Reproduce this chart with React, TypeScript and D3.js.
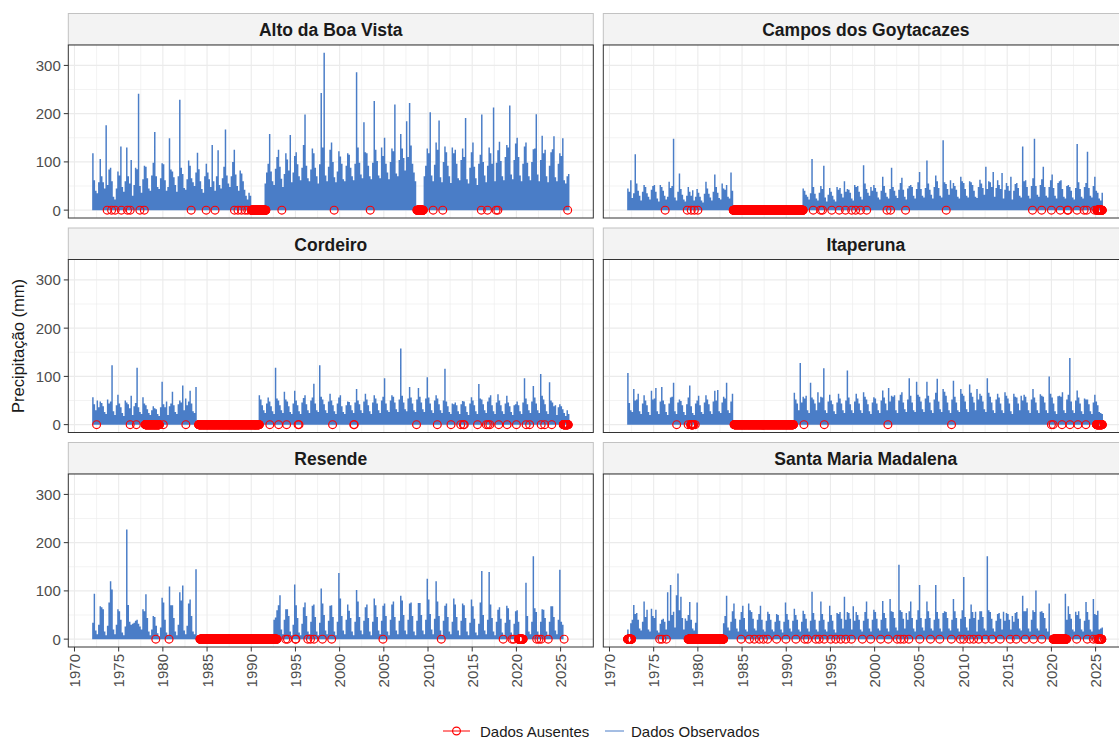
import React from "react";
import * as d3 from "d3";

// Bi-monthly maximum of daily precipitation (mm), starting Jan 1972.
// Each row is one year: Jan–Feb, Mar–Apr, May–Jun, Jul–Aug, Sep–Oct, Nov–Dec. N = no observation.
const N = null;
const FIRST_YEAR = 1972;
const PERIODS_PER_YEAR = 6;

const altoDaBoaVista: (number | null)[] = [
  118, 62, 40, 35, 58, 106, // 1972
  70, 58, 45, 176, 52, 84, // 1973
  88, 60, 28, 22, 45, 80, // 1974
  72, 132, 48, 38, 60, 130, // 1975
  70, 55, 104, 30, 52, 88, // 1976
  85, 241, 50, 36, 64, 92, // 1977
  90, 66, 45, 40, 72, 98, // 1978
  162, 70, 48, 44, 66, 97, // 1979
  95, 62, 40, 48, 149, 84, // 1980
  80, 68, 52, 38, 70, 229, // 1981
  88, 75, 46, 42, 64, 103, // 1982
  92, 66, 58, 50, 78, 119, // 1983
  85, 60, 44, 36, 70, 96, // 1984
  78, 64, 48, 135, 60, 40, // 1985
  70, 124, 52, 45, 66, 90, // 1986
  167, 72, 55, 48, 70, 100, // 1987
  125, 74, 50, 40, 82, 76, // 1988
  60, 42, 30, 22, 36, 30, // 1989
  N, N, N, N, N, N, // 1990
  N, N, N, 55, 78, 96, // 1991
  158, 80, 60, 52, 86, 110, // 1992
  125, 90, 65, 48, 75, 118, // 1993
  105, 82, 156, 58, 78, 112, // 1994
  120, 95, 70, 62, 88, 135, // 1995
  198, 92, 66, 60, 84, 128, // 1996
  118, 88, 70, 55, 95, 243, // 1997
  130, 326, 72, 60, 90, 125, // 1998
  140, 100, 68, 58, 80, 122, // 1999
  111, 96, 64, 60, 92, 118, // 2000
  115, 88, 70, 62, 96, 286, // 2001
  130, 98, 74, 66, 182, 120, // 2002
  118, 92, 70, 64, 98, 226, // 2003
  125, 102, 72, 66, 130, 112, // 2004
  150, 96, 78, 64, 100, 128, // 2005
  122, 219, 76, 70, 104, 158, // 2006
  128, 108, 82, 184, 110, 222, // 2007
  134, 96, 78, 60, N, N, // 2008
  N, N, N, 70, 92, 128, // 2009
  118, 203, 72, 60, 94, 140, // 2010
  125, 186, 68, 58, 100, 132, // 2011
  120, 92, 70, 56, 130, 118, // 2012
  125, 96, 66, 62, 104, 128, // 2013
  110, 191, 64, 55, 88, 120, // 2014
  140, 90, 66, 52, 96, 115, // 2015
  198, 100, 72, 58, 92, 130, // 2016
  118, 96, 213, 60, 98, 124, // 2017
  142, 102, 70, 62, 110, 135, // 2018
  130, 217, 74, 64, 104, 138, // 2019
  150, 110, 72, 60, 96, 132, // 2020
  140, 98, 70, 62, 100, 126, // 2021
  128, 199, 74, 60, 104, 154, // 2022
  118, 125, 70, 58, 92, 120, // 2023
  126, 153, 68, 60, 96, 118, // 2024
  112, 149, 62, 55, 70, 75, // 2025
];

const camposDosGoytacazes: (number | null)[] = [
  45, 38, 62, 25, 35, 116, // 1972
  55, 40, 30, 20, 38, 52, // 1973
  48, 35, 28, 22, 42, 50, // 1974
  52, 38, 24, 18, 52, 48, // 1975
  40, 30, 22, 28, 59, 46, // 1976
  50, 148, 26, 20, 38, 76, // 1977
  44, 32, 22, 18, 30, 48, // 1978
  38, 30, 41, 20, 28, 44, // 1979
  36, 28, 20, 16, 34, 59, // 1980
  45, 34, 26, 20, 38, 74, // 1981
  48, 36, 25, 22, 55, 45, // 1982
  42, 52, 28, 24, 78, 40, // 1983
  N, N, N, N, N, N, // 1984
  N, N, N, N, N, N, // 1985
  N, N, N, N, N, N, // 1986
  N, N, N, N, N, N, // 1987
  N, N, N, N, N, N, // 1988
  N, N, N, N, N, N, // 1989
  N, N, N, N, N, N, // 1990
  N, N, N, N, N, 45, // 1991
  40, 32, 28, 22, 35, 106, // 1992
  48, 34, 24, 20, 36, 50, // 1993
  44, 92, 26, 18, 32, 46, // 1994
  38, 30, 22, 18, 48, 42, // 1995
  46, 34, 26, 60, 38, 44, // 1996
  42, 36, 24, 20, 52, 48, // 1997
  50, 38, 28, 22, 93, 55, // 1998
  44, 36, 30, 48, 40, 52, // 1999
  46, 38, 26, 22, 40, 69, // 2000
  50, 36, 28, 24, 44, 88, // 2001
  48, 40, 30, 25, 42, 56, // 2002
  67, 42, 28, 22, 45, 50, // 2003
  52, 48, 30, 24, 44, 58, // 2004
  79, 44, 30, 26, 46, 103, // 2005
  55, 42, 32, 24, 48, 72, // 2006
  60, 46, 30, 26, 145, 58, // 2007
  54, 44, 32, 62, 45, 56, // 2008
  50, 42, 28, 24, 69, 60, // 2009
  56, 44, 30, 26, 60, 58, // 2010
  52, 40, 28, 25, 48, 63, // 2011
  55, 46, 32, 90, 44, 60, // 2012
  58, 48, 79, 28, 46, 62, // 2013
  52, 44, 77, 24, 42, 56, // 2014
  50, 40, 69, 22, 40, 54, // 2015
  56, 46, 30, 26, 132, 60, // 2016
  62, 48, 30, 24, 50, 66, // 2017
  148, 50, 32, 28, 52, 64, // 2018
  90, 48, 30, 26, 48, 62, // 2019
  74, 46, 30, 24, 56, 60, // 2020
  62, 44, 28, 24, 50, 52, // 2021
  48, 40, 26, 22, 46, 137, // 2022
  58, 44, 28, 24, 48, 56, // 2023
  121, 46, 30, 26, 50, 69, // 2024
  40, 36, 24, 20, 36, N, // 2025
];

const cordeiro: (number | null)[] = [
  57, 42, 30, 50, 36, 48, // 1972
  45, 38, 26, 22, 52, 44, // 1973
  48, 123, 28, 20, 40, 62, // 1974
  44, 36, 24, 18, 50, 46, // 1975
  42, 34, 60, 20, 38, 45, // 1976
  118, 36, 26, 22, 57, 44, // 1977
  40, 32, 24, 20, 30, 38, // 1978
  34, 32, 22, 18, 36, 89, // 1979
  42, 36, 48, 20, 38, 44, // 1980
  68, 40, 26, 22, 42, 50, // 1981
  46, 81, 30, 54, 40, 48, // 1982
  70, 44, 28, 24, 78, N, // 1983
  N, N, N, N, N, N, // 1984
  N, N, N, N, N, N, // 1985
  N, N, N, N, N, N, // 1986
  N, N, N, N, N, N, // 1987
  N, N, N, N, N, N, // 1988
  N, N, N, N, N, N, // 1989
  N, N, N, N, N, 61, // 1990
  52, 40, 30, 24, 44, 56, // 1991
  48, 38, 28, 22, 118, 54, // 1992
  50, 40, 30, 24, 68, 52, // 1993
  48, 38, 26, 22, 44, 70, // 1994
  50, 40, 28, 22, 46, 55, // 1995
  61, 42, 30, 24, 50, 56, // 1996
  85, 44, 30, 26, 123, 58, // 1997
  52, 42, 30, 24, 48, 64, // 1998
  50, 40, 28, 22, 44, 56, // 1999
  61, 38, 26, 22, 40, 48, // 2000
  47, 40, 30, 24, 46, 74, // 2001
  50, 42, 30, 24, 48, 64, // 2002
  52, 40, 28, 22, 46, 61, // 2003
  54, 44, 30, 24, 50, 58, // 2004
  96, 44, 30, 26, 50, 61, // 2005
  58, 46, 32, 26, 52, 158, // 2006
  60, 46, 32, 28, 54, 78, // 2007
  56, 44, 30, 26, 52, 76, // 2008
  58, 46, 32, 26, 54, 98, // 2009
  56, 44, 30, 24, 50, 61, // 2010
  54, 42, 30, 24, 50, 116, // 2011
  48, 38, 26, 22, 44, 42, // 2012
  46, 40, 28, 22, 42, 49, // 2013
  48, 38, 26, 20, 44, 57, // 2014
  50, 40, 28, 22, 84, 54, // 2015
  52, 42, 30, 24, 48, 56, // 2016
  61, 40, 28, 22, 46, 63, // 2017
  50, 40, 28, 22, 44, 60, // 2018
  46, 38, 26, 20, 40, 42, // 2019
  48, 40, 28, 22, 46, 96, // 2020
  54, 42, 30, 24, 48, 80, // 2021
  56, 44, 30, 24, 105, 60, // 2022
  52, 42, 28, 22, 88, 50, // 2023
  46, 38, 40, 20, 36, 42, // 2024
  38, 32, 24, 18, 30, 22, // 2025
];

const itaperuna: (number | null)[] = [
  107, 45, 30, 26, 74, 50, // 1972
  52, 64, 28, 22, 44, 61, // 1973
  50, 40, 26, 20, 70, 52, // 1974
  54, 76, 28, 22, 48, 78, // 1975
  50, 42, 26, 20, 44, 56, // 1976
  58, 87, 28, 22, 46, 52, // 1977
  49, 40, 26, 20, 42, 56, // 1978
  81, 38, 24, 20, 44, 50, // 1979
  60, 40, 26, 22, 46, 61, // 1980
  52, 42, 28, 22, 48, 70, // 1981
  50, 72, 28, 24, 46, 58, // 1982
  54, 87, 30, 24, 48, 64, // 1983
  N, N, N, N, N, N, // 1984
  N, N, N, N, N, N, // 1985
  N, N, N, N, N, N, // 1986
  N, N, N, N, N, N, // 1987
  N, N, N, N, N, N, // 1988
  N, N, N, N, N, N, // 1989
  N, N, N, N, N, 66, // 1990
  52, 44, 30, 128, 46, 58, // 1991
  54, 60, 30, 24, 87, 56, // 1992
  52, 44, 30, 67, 46, 58, // 1993
  56, 117, 30, 24, 48, 62, // 1994
  50, 42, 28, 22, 46, 64, // 1995
  54, 44, 30, 24, 50, 112, // 1996
  56, 42, 30, 24, 48, 64, // 1997
  54, 44, 30, 24, 67, 58, // 1998
  52, 42, 28, 22, 46, 57, // 1999
  54, 44, 30, 24, 50, 71, // 2000
  56, 44, 30, 76, 48, 60, // 2001
  58, 61, 30, 24, 50, 62, // 2002
  67, 46, 32, 26, 52, 96, // 2003
  60, 46, 30, 26, 89, 62, // 2004
  58, 48, 32, 26, 54, 89, // 2005
  60, 46, 30, 24, 52, 66, // 2006
  95, 48, 32, 26, 74, 68, // 2007
  60, 46, 30, 24, 52, 91, // 2008
  58, 46, 30, 26, 74, 64, // 2009
  60, 48, 32, 26, 83, 66, // 2010
  58, 46, 30, 74, 52, 64, // 2011
  60, 48, 32, 26, 96, 66, // 2012
  58, 46, 30, 24, 52, 64, // 2013
  56, 44, 30, 24, 67, 60, // 2014
  54, 44, 28, 22, 64, 58, // 2015
  56, 44, 30, 60, 50, 62, // 2016
  58, 46, 30, 24, 52, 74, // 2017
  56, 46, 30, 24, 63, 60, // 2018
  58, 46, 30, 24, 100, 64, // 2019
  56, 44, 28, 22, 59, 60, // 2020
  58, 67, 30, 24, 52, 62, // 2021
  138, 48, 30, 24, 50, 71, // 2022
  56, 44, 28, 22, 54, 52, // 2023
  52, 42, 28, 22, 46, 62, // 2024
  48, 40, 26, 24, 22, N, // 2025
];

const resende: (number | null)[] = [
  34, 94, 18, 10, 30, 68, // 1972
  66, 62, 16, 8, 28, 76, // 1973
  120, 103, 20, 10, 30, 62, // 1974
  58, 40, 14, 8, 26, 227, // 1975
  71, 36, 30, 32, 34, 38, // 1976
  40, 32, 26, 20, 62, 58, // 1977
  93, 44, 16, 8, 20, 48, // 1978
  46, 28, 12, 6, 24, 86, // 1979
  76, 40, 14, 8, 109, 70, // 1980
  70, 44, 16, 8, 30, 97, // 1981
  80, 111, 18, 10, 28, 74, // 1982
  82, 48, 16, 10, 145, N, // 1983
  N, N, N, N, N, N, // 1984
  N, N, N, N, N, N, // 1985
  N, N, N, N, N, N, // 1986
  N, N, N, N, N, N, // 1987
  N, N, N, N, N, N, // 1988
  N, N, N, N, N, N, // 1989
  N, N, N, N, N, N, // 1990
  N, N, N, N, N, N, // 1991
  N, N, N, 40, 45, 60, // 1992
  70, 91, 20, 10, 40, 62, // 1993
  62, 48, 16, 8, 30, 113, // 1994
  70, 44, 14, 8, 32, 66, // 1995
  76, 48, 16, 10, 36, 69, // 1996
  72, 46, 16, 8, 34, 105, // 1997
  74, 50, 18, 10, 38, 69, // 1998
  70, 46, 16, 8, 36, 137, // 1999
  84, 48, 18, 10, 40, 72, // 2000
  59, 44, 16, 8, 36, 102, // 2001
  78, 46, 18, 10, 38, 66, // 2002
  72, 44, 16, 8, 36, 84, // 2003
  70, 46, 18, 10, 38, 69, // 2004
  74, 48, 16, 8, 40, 72, // 2005
  78, 46, 18, 10, 38, 90, // 2006
  80, 50, 18, 10, 40, 74, // 2007
  76, 48, 16, 8, 38, 75, // 2008
  75, 50, 18, 10, 40, 125, // 2009
  82, 52, 20, 10, 42, 120, // 2010
  78, 48, 18, 8, 38, 69, // 2011
  74, 46, 16, 10, 36, 84, // 2012
  72, 46, 18, 8, 38, 74, // 2013
  70, 44, 16, 8, 34, 82, // 2014
  68, 42, 14, 8, 32, 76, // 2015
  141, 50, 18, 10, 40, 139, // 2016
  72, 44, 16, 8, 36, 61, // 2017
  66, 42, 14, 8, 34, 69, // 2018
  64, 40, 14, 8, 32, 58, // 2019
  60, 36, N, N, N, N, // 2020
  117, 48, 16, 10, 36, 172, // 2021
  64, 56, 16, 8, 36, 62, // 2022
  61, 44, 16, 8, 36, 68, // 2023
  68, 46, 18, 10, 40, 144, // 2024
  36, 30, N, N, N, N, // 2025
];

const santaMariaMadalena: (number | null)[] = [
  20, N, 33, 40, 71, 52, // 1972
  54, 40, 22, 18, 36, 78, // 1973
  46, 61, 20, 16, 63, 48, // 1974
  44, 61, 18, 14, 32, 40, // 1975
  42, 36, 20, 97, 38, 112, // 1976
  50, 57, 24, 91, 136, 60, // 1977
  88, 44, 20, 43, 38, 50, // 1978
  77, 40, 22, 18, 34, 76, // 1979
  10, N, N, N, N, N, // 1980
  N, N, N, N, N, N, // 1981
  N, N, N, N, N, 33, // 1982
  48, 90, 24, 18, 36, 58, // 1983
  74, 42, 22, 16, 40, 56, // 1984
  69, 44, 20, 16, 74, 60, // 1985
  56, 42, 22, 18, 40, 52, // 1986
  69, 40, 20, 16, 38, 57, // 1987
  52, 40, 20, 16, 36, 52, // 1988
  50, 38, 20, 14, 36, 76, // 1989
  52, 40, 22, 16, 38, 63, // 1990
  50, 40, 20, 16, 36, 59, // 1991
  52, 42, 22, 16, 38, 98, // 1992
  54, 40, 20, 16, 38, 78, // 1993
  52, 40, 20, 16, 36, 69, // 1994
  50, 38, 20, 14, 54, 52, // 1995
  56, 42, 22, 88, 40, 56, // 1996
  54, 42, 20, 68, 38, 56, // 1997
  50, 40, 20, 16, 38, 56, // 1998
  78, 42, 22, 16, 40, 61, // 1999
  56, 42, 22, 18, 40, 79, // 2000
  54, 44, 22, 16, 83, 58, // 2001
  56, 44, 24, 18, 154, 60, // 2002
  56, 42, 22, 54, 40, 58, // 2003
  78, 44, 22, 16, 40, 60, // 2004
  112, 44, 24, 18, 42, 78, // 2005
  58, 44, 22, 18, 40, 112, // 2006
  56, 42, 22, 16, 54, 58, // 2007
  56, 44, 22, 18, 40, 83, // 2008
  58, 44, 22, 16, 42, 60, // 2009
  129, 46, 24, 18, 42, 72, // 2010
  56, 44, 57, 16, 40, 58, // 2011
  58, 46, 22, 18, 172, 60, // 2012
  56, 42, 22, 16, 38, 52, // 2013
  54, 42, 20, 57, 38, 54, // 2014
  52, 40, 20, 48, 36, 54, // 2015
  56, 42, 22, 18, 90, 58, // 2016
  58, 64, 22, 16, 40, 60, // 2017
  56, 101, 22, 18, 57, 58, // 2018
  54, 44, 22, 16, 74, N, // 2019
  N, N, N, N, N, N, // 2020
  N, N, N, 94, 40, 68, // 2021
  52, 42, 20, 16, 57, 50, // 2022
  58, 42, 20, 16, 38, 77, // 2023
  56, 40, 20, 16, 83, 52, // 2024
  50, 59, 20, 22, 24, N, // 2025
];

// Days without observation (decimal years) and continuous gaps [start, end].
const altoMissingDays = [1973.7, 1974.2, 1974.6, 1975.3, 1976.0, 1976.3, 1977.4, 1977.9, 1983.2, 1984.9, 1985.9, 1988.1, 1988.5, 1988.9, 1989.3, 1989.6, 1993.46, 1999.38, 2003.46, 2010.58, 2011.67, 2016.03, 2016.73, 2017.7, 2017.9, 2025.8];
const altoMissingSpans: [number, number][] = [[1990.0, 1991.65], [2008.75, 2009.45]];

const camposMissingDays = [1976.3, 1978.8, 1979.25, 1979.6, 1980.0, 1993.05, 1993.9, 1994.1, 1995.15, 1996.0, 1996.7, 1997.4, 1997.85, 1998.4, 1999.1, 2001.4, 2001.8, 2003.5, 2008.1, 2017.86, 2018.9, 2020.0, 2021.0, 2021.8, 2021.9, 2022.9, 2023.7, 2024.0, 2024.9];
const camposMissingSpans: [number, number][] = [[1984.0, 1991.9], [2025.15, 2025.75]];

const cordeiroMissingDays = [1972.5, 1976.3, 1977.0, 1980.05, 1982.6, 1992.1, 1993.1, 1994.0, 1995.3, 1995.4, 1999.2, 2001.6, 2001.65, 2008.7, 2011.05, 2012.6, 2013.7, 2014.0, 2014.1, 2015.6, 2016.6, 2016.8, 2017.0, 2018.0, 2018.95, 2020.0, 2021.1, 2021.5, 2022.8, 2023.2, 2024.0];
const cordeiroMissingSpans: [number, number][] = [[1978.0, 1979.6], [1984.05, 1990.9], [2025.3, 2025.85]];

const itaperunaMissingDays = [1977.6, 1978.9, 1979.7, 1992.0, 1994.3, 2001.5, 2008.7, 2020.0, 2020.2, 2021.2, 2022.1, 2023.0, 2023.9];
const itaperunaMissingSpans: [number, number][] = [[1979.2, 1979.5], [1984.1, 1990.8], [2025.1, 2025.75]];

const resendeMissingDays = [1979.2, 1980.7, 1993.9, 1994.1, 1995.0, 1995.05, 1996.4, 1996.7, 1997.1, 1998.05, 1999.1, 2004.9, 2011.5, 2018.5, 2019.5, 2019.7, 2022.3, 2022.55, 2022.8, 2023.6, 2025.4];
const resendeMissingSpans: [number, number][] = [[1984.2, 1992.9], [2020.25, 2020.75]];

const santaMariaMissingDays = [1975.68, 1975.94, 1976.43, 1984.89, 1985.83, 1986.39, 1986.95, 1987.41, 1987.89, 1988.91, 1989.96, 1991.09, 1992.1, 1992.41, 1993.35, 1993.72, 1994.29, 1995.04, 1995.6, 1996.17, 1996.73, 1997.37, 1998.61, 1999.55, 2000.68, 2001.54, 2002.56, 2002.93, 2003.31, 2003.87, 2005.11, 2006.32, 2007.37, 2008.68, 2009.7, 2010.08, 2010.75, 2011.2, 2011.77, 2012.52, 2013.27, 2014.21, 2015.34, 2016.02, 2017.03, 2017.97, 2018.91, 2022.86, 2024.06, 2024.74, 2025.11];
const santaMariaMissingSpans: [number, number][] = [[1972.05, 1972.5], [1978.9, 1982.9], [2020.2, 2021.7], [2025.3, 2025.7]];

const stations = [
  { name: "Alto da Boa Vista", values: altoDaBoaVista, missingDays: altoMissingDays, missingSpans: altoMissingSpans },
  { name: "Campos dos Goytacazes", values: camposDosGoytacazes, missingDays: camposMissingDays, missingSpans: camposMissingSpans },
  { name: "Cordeiro", values: cordeiro, missingDays: cordeiroMissingDays, missingSpans: cordeiroMissingSpans },
  { name: "Itaperuna", values: itaperuna, missingDays: itaperunaMissingDays, missingSpans: itaperunaMissingSpans },
  { name: "Resende", values: resende, missingDays: resendeMissingDays, missingSpans: resendeMissingSpans },
  { name: "Santa Maria Madalena", values: santaMariaMadalena, missingDays: santaMariaMissingDays, missingSpans: santaMariaMissingSpans },
];

const xTicks = [1970, 1975, 1980, 1985, 1990, 1995, 2000, 2005, 2010, 2015, 2020, 2025];
const yTicks = [0, 100, 200, 300];
const legendItems = ["Dados Ausentes", "Dados Observados"];

const BLUE = "#4a7dc7";
const RED = "#ff0000";
const FONT = "'Liberation Sans', Arial, Helvetica, sans-serif";

// Layout
const W = 1119;
const H = 738;
const PANEL_W = 525;
const PANEL_H = 173;
const STRIP_H = 31.5;
const COL_X = [68.3, 603.3];
const ROW_Y = [45, 259.5, 474];

type Pt = { t: number; v: number | null };

function stepPoints(values: (number | null)[]): Pt[] {
  const pts: Pt[] = [];
  values.forEach((v, i) => {
    const t0 = FIRST_YEAR + i / PERIODS_PER_YEAR;
    const t1 = FIRST_YEAR + (i + 1) / PERIODS_PER_YEAR;
    pts.push({ t: t0, v }, { t: t1, v });
  });
  return pts;
}

function missingPoints(days: number[], spans: [number, number][]): number[] {
  const out = [...days];
  const step = 5 / 365.25;
  spans.forEach(([a, b]) => {
    d3.range(a, b, step).forEach((t) => out.push(t));
    out.push(b);
  });
  return out;
}

export default function App() {
  const tMin = FIRST_YEAR;
  const tMax = d3.max(stations, (s) => FIRST_YEAR + s.values.length / PERIODS_PER_YEAR) as number;
  const tPad = (tMax - tMin) * 0.05;
  const x = d3.scaleLinear().domain([tMin - tPad, tMax + tPad]).range([0, PANEL_W]);

  const vMax = d3.max(stations, (s) => d3.max(s.values, (v) => (v == null ? 0 : v))) as number;
  const vPad = vMax * 0.05;
  const y = d3.scaleLinear().domain([-vPad, vMax + vPad]).range([PANEL_H, 0]);

  const area = d3
    .area<Pt>()
    .defined((d) => d.v != null)
    .x((d) => x(d.t))
    .y0(y(0))
    .y1((d) => y(d.v as number));

  const majorX = xTicks;
  const minorX = d3.range(1967.5, 2030, 5).filter((t) => x(t) >= 0 && x(t) <= PANEL_W);
  const minorY = [50, 150, 250];

  return (
    <svg width={W} height={H} style={{ position: "absolute", left: 0, top: 0, background: "#fff" }} fontFamily={FONT}>
      <rect x={0} y={0} width={W} height={H} fill="#fff" />
      {stations.map((s, i) => {
        const col = i % 2;
        const row = Math.floor(i / 2);
        const px = COL_X[col];
        const py = ROW_Y[row];
        const pts = missingPoints(s.missingDays, s.missingSpans);
        return (
          <g key={s.name}>
            {/* strip */}
            <rect x={px} y={py - STRIP_H} width={PANEL_W} height={STRIP_H} fill="#f3f3f3" stroke="#c2c2c2" strokeWidth={1} />
            <text x={px + PANEL_W / 2} y={py - STRIP_H / 2 + 1} textAnchor="middle" dominantBaseline="central" fontSize={17.5} fontWeight="bold" fill="#1a1a1a">
              {s.name}
            </text>
            <g transform={`translate(${px},${py})`}>
              <rect x={0} y={0} width={PANEL_W} height={PANEL_H} fill="#fff" />
              {minorY.map((v) => (
                <line key={"my" + v} x1={0} x2={PANEL_W} y1={y(v)} y2={y(v)} stroke="#ebebeb" strokeWidth={0.6} />
              ))}
              {minorX.map((t) => (
                <line key={"mx" + t} x1={x(t)} x2={x(t)} y1={0} y2={PANEL_H} stroke="#ebebeb" strokeWidth={0.6} />
              ))}
              {yTicks.map((v) => (
                <line key={"gy" + v} x1={0} x2={PANEL_W} y1={y(v)} y2={y(v)} stroke="#ebebeb" strokeWidth={1.1} />
              ))}
              {majorX.map((t) => (
                <line key={"gx" + t} x1={x(t)} x2={x(t)} y1={0} y2={PANEL_H} stroke="#ebebeb" strokeWidth={1.1} />
              ))}
              <path d={area(stepPoints(s.values)) || ""} fill={BLUE} />
              {pts.map((t, k) => (
                <circle key={k} cx={x(t)} cy={y(0)} r={3.9} fill="none" stroke={RED} strokeWidth={1.2} />
              ))}
              <rect x={0} y={0} width={PANEL_W} height={PANEL_H} fill="none" stroke="#333333" strokeWidth={1} />
              {/* y axis on left column */}
              {col === 0 &&
                yTicks.map((v) => (
                  <g key={"yt" + v}>
                    <line x1={-4.5} x2={0} y1={y(v)} y2={y(v)} stroke="#333333" strokeWidth={1} />
                    <text x={-7.5} y={y(v)} textAnchor="end" dominantBaseline="central" fontSize={15} fill="#4d4d4d">
                      {v}
                    </text>
                  </g>
                ))}
              {/* x axis on bottom row */}
              {row === 2 &&
                xTicks.map((t) => (
                  <g key={"xt" + t}>
                    <line x1={x(t)} x2={x(t)} y1={PANEL_H} y2={PANEL_H + 4.5} stroke="#333333" strokeWidth={1} />
                    <text
                      transform={`translate(${x(t)},${PANEL_H + 7}) rotate(-90)`}
                      textAnchor="end"
                      dominantBaseline="central"
                      fontSize={15}
                      fill="#4d4d4d"
                    >
                      {t}
                    </text>
                  </g>
                ))}
            </g>
          </g>
        );
      })}
      <text transform={`translate(18,${(ROW_Y[0] + ROW_Y[2] + PANEL_H) / 2}) rotate(-90)`} textAnchor="middle" dominantBaseline="central" fontSize={16.5} fill="#1a1a1a">
        Precipitação (mm)
      </text>
      {/* legend */}
      <g transform="translate(0,731)">
        <line x1={443} x2={470} y1={0} y2={0} stroke={RED} strokeWidth={1} />
        <circle cx={456.5} cy={0} r={3.9} fill="none" stroke={RED} strokeWidth={1.2} />
        <text x={480} y={0} dominantBaseline="central" fontSize={15} fill="#1a1a1a">
          {legendItems[0]}
        </text>
        <line x1={605} x2={624} y1={0} y2={0} stroke={BLUE} strokeWidth={1} />
        <text x={631} y={0} dominantBaseline="central" fontSize={15} fill="#1a1a1a">
          {legendItems[1]}
        </text>
      </g>
    </svg>
  );
}
